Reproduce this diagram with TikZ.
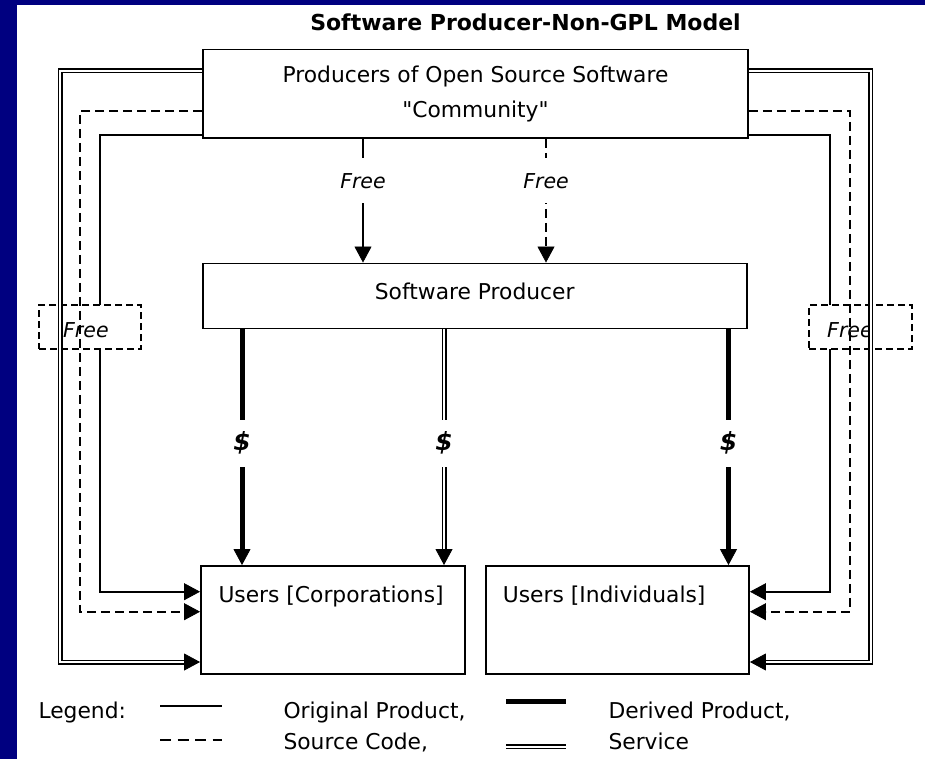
\documentclass[tikz,border=0pt]{standalone}
\usepackage{fontspec}
\setmainfont{DejaVu Sans}
\newfontfamily\plainq{DejaVu Sans}
\usetikzlibrary{arrows.meta}
\definecolor{navyback}{RGB}{0,0,128}
\begin{document}
\begin{tikzpicture}[x=1pt,y=-1pt,
  txt/.style={font=\fontsize{21.8}{35}\selectfont, inner sep=0pt},
  boxnode/.style={draw, line width=1.9pt, fill=white, inner sep=0pt},
  endarrow/.style={-{Triangle[length=16pt,width=17pt,line width=0.8pt]}},
  thinline/.style={line width=1.9pt},
  dashline/.style={line width=1.9pt, dash pattern=on 9pt off 5pt},
  thickline/.style={line width=5pt},
  dblline/.style={double, double distance=2pt, line width=1.5pt},
  lbl/.style={fill=white, inner sep=0pt, minimum height=45pt, font=\fontsize{20.5}{24}\selectfont\itshape},
  dollar/.style={fill=white, inner sep=0pt, minimum height=47pt, font=\fontsize{25}{28}\selectfont\bfseries\itshape},
  freebox/.style={draw, line width=1.6pt, dash pattern=on 7pt off 4pt, fill=white, inner sep=0pt},
  freetxt/.style={inner sep=0pt, font=\fontsize{20.5}{24}\selectfont\itshape},
  ]
\fill[navyback] (0,0) rectangle (925,759);
\fill[white] (17,5) rectangle (925,759);
\useasboundingbox (0,0) rectangle (925,759);

% title
\node[txt, anchor=base, font=\fontsize{22}{26}\selectfont\bfseries] (title) at (525.5,30.7) {Software Producer-Non-GPL Model};

% boxes
\node[boxnode, txt, minimum width=545pt, minimum height=88.5pt, align=center] (top) at (475.5,93.75) {Producers of Open Source Software\\{\plainq"Community"}};
\node[boxnode, minimum width=544pt, minimum height=65pt] (sp) at (475,296) {};
\node[txt, anchor=base] (sptxt) at (474.7,299.3) {Software Producer};
\node[boxnode, minimum width=264pt, minimum height=108pt] (corp) at (333,620) {};
\node[txt, anchor=base west] (corptxt) at (218.3,602.7) {Users [Corporations]};
\node[boxnode, minimum width=263pt, minimum height=108pt] (indiv) at (617.5,620) {};
\node[txt, anchor=base west] (indivtxt) at (502.7,602.7) {Users [Individuals]};

% top -> software producer
\draw[thinline, endarrow] (top.south -| 363,0) -- node[lbl, pos=0.339] (free1) {Free} (sp.north -| 363,0);
\draw[dashline, endarrow] (top.south -| 546,0) -- node[lbl, pos=0.339] (free2) {Free} (sp.north -| 546,0);

% software producer -> users
\draw[thickline, endarrow] (sp.south -| 242,0) -- node[dollar, pos=0.482] (d1) {\$} (corp.north -| 242,0);
\draw[dblline, endarrow] (sp.south -| 444,0) -- node[dollar, pos=0.482] (d2) {\$} (corp.north -| 444,0);
\draw[thickline, endarrow] (sp.south -| 728.5,0) -- node[dollar, pos=0.482] (d3) {\$} (indiv.north -| 728.5,0);

% solid loops
\draw[thinline, endarrow] (top.west |- 0,134.6) -| (100,591.7) -- (corp.west |- 0,591.7);
\draw[thinline, endarrow] (top.east |- 0,134.6) -| (830,591.7) -- (indiv.east |- 0,591.7);

% free boxes
\node[freebox, minimum width=102pt, minimum height=44pt] (freel) at (90,327) {};
\node[freetxt, anchor=base west] (freeltxt) at (63,337.3) {Free};
\node[freebox, minimum width=103pt, minimum height=44pt] (freer) at (860.5,327) {};
\node[freetxt, anchor=base west] (freertxt) at (827,337.3) {Free};

% dashed loops
\draw[dashline, endarrow] (top.west |- 0,111) -| (80,611.7) -- (corp.west |- 0,611.7);
\draw[dashline, endarrow] (top.east |- 0,111) -| (850,611.7) -- (indiv.east |- 0,611.7);

% double loops
\draw[dblline, endarrow] (top.west |- 0,71) -| (60,662) -- (corp.west |- 0,662);
\draw[dblline, endarrow] (top.east |- 0,71) -| (870.5,662) -- (indiv.east |- 0,662);

% legend
\node[txt, anchor=base west] (leg) at (38.3,718) {Legend:};
\draw[thinline] (160,705.7) -- (221.7,705.7);
\node[txt, anchor=base west] (leg1) at (283.3,718) {Original Product,};
\draw[line width=1.9pt, dash pattern=on 11pt off 6.5pt] (160,740) -- (221.7,740);
\node[txt, anchor=base west] (leg2) at (283.3,749.3) {Source Code,};
\draw[line width=4.5pt] (506,701.7) -- (566,701.7);
\node[txt, anchor=base west] (leg3) at (608.3,718) {Derived Product,};
\draw[dblline] (506,746.7) -- (566,746.7);
\node[txt, anchor=base west] (leg4) at (608.3,749.3) {Service};
\end{tikzpicture}
\end{document}
